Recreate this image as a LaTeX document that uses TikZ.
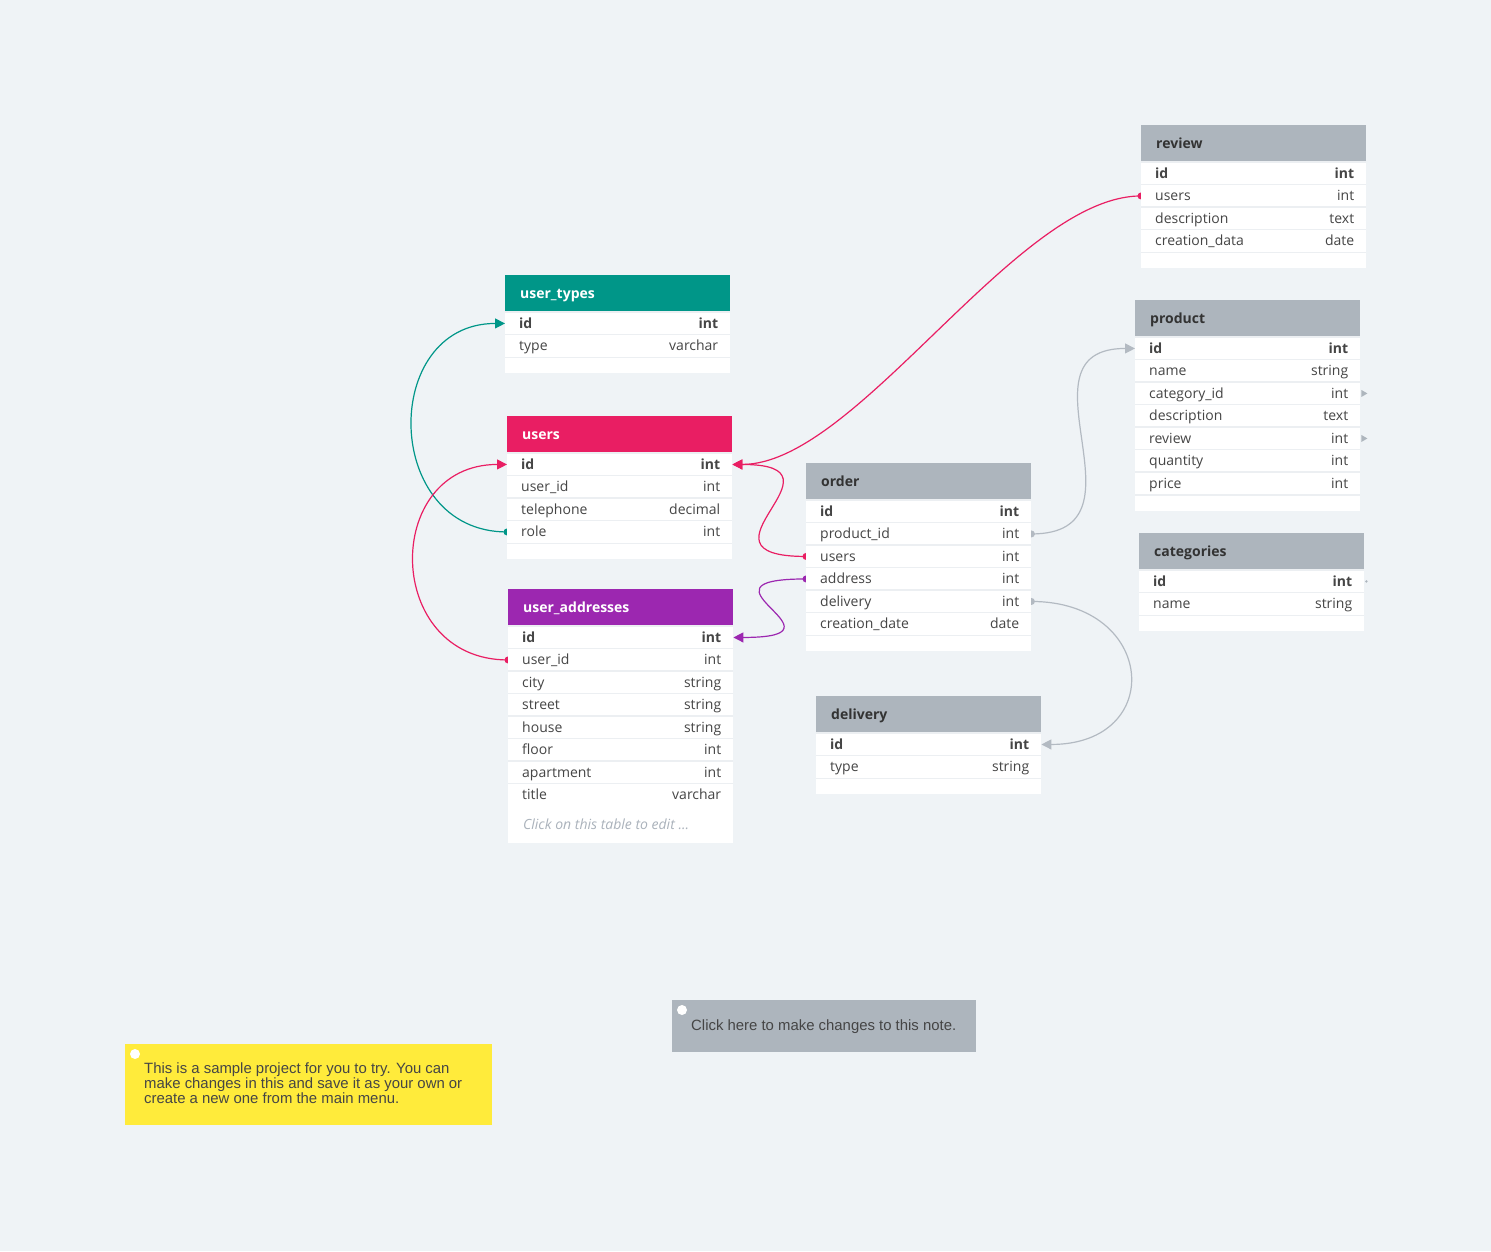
\documentclass[tikz,border=0pt]{standalone}
\usepackage{fontspec}
\setmainfont{Open Sans}
\newfontfamily\notefont{Liberation Sans}
\usetikzlibrary{arrows.meta}

\definecolor{canvasbg}{HTML}{EFF3F6}
\definecolor{tealhd}{HTML}{009688}
\definecolor{pinkhd}{HTML}{E91E63}
\definecolor{purplehd}{HTML}{9C27B0}
\definecolor{grayhd}{HTML}{ADB5BD}
\definecolor{linkgray}{HTML}{B3BAC2}
\definecolor{rowline}{HTML}{ECEFF2}
\definecolor{txtdark}{HTML}{333333}
\definecolor{txtmid}{HTML}{454545}
\definecolor{noteyellow}{HTML}{FFEB3B}
\definecolor{hinttxt}{HTML}{AAB2BB}

\pgfdeclarelayer{canvas}
\pgfdeclarelayer{links}
\pgfsetlayers{canvas,links,main}

\tikzset{
  tblhead/.style={anchor=north west, minimum width=225pt, minimum height=37pt,
    inner xsep=15pt, inner ysep=0pt, text width=195pt, align=left,
    text height=11pt, text depth=1.5pt,
    font=\fontsize{14}{16}\selectfont\bfseries},
  tblrow/.style={anchor=north west, fill=white, minimum width=225pt,
    minimum height=22.5pt, inner sep=0pt},
  fldname/.style={anchor=west, xshift=14pt, inner sep=0pt, text=txtmid,
    text height=11pt, text depth=1pt, font=\fontsize{14}{16}\selectfont},
  fldtype/.style={anchor=east, xshift=-12pt, inner sep=0pt, text=txtmid,
    text height=11pt, text depth=1pt, font=\fontsize{14}{16}\selectfont},
  hint/.style={anchor=west, inner sep=0pt, text=hinttxt,
    text height=11pt, text depth=1pt, font=\fontsize{14}{16}\selectfont\itshape},
  link/.style={line width=1.2pt, -{Triangle[length=10pt,width=10pt]}},
  note/.style={anchor=north west, inner sep=0pt},
  notetext/.style={inner sep=0pt, text=txtmid, font=\notefont\fontsize{14.9}{15}\selectfont},
}

% table: name, x, y, header colour, header text colour, title, rows
\newcommand{\erdtable}[7]{%
  \node[tblhead, fill=#4, text=#5] (#1) at (#2,#3) {#6};
  \foreach \fld/\typ [count=\i] in {#7} {
    \pgfmathsetmacro{\rowy}{#3+37+(\i-1)*22.5}
    \fill[white] (#2,\rowy) rectangle ++(225,38.5);
    \node[tblrow] (#1-\fld) at (#2,\rowy) {};
    \draw[rowline, line width=1.5pt] (#1-\fld.north west) -- (#1-\fld.north east);
    \draw[rowline, line width=1.5pt] (#1-\fld.south west) -- (#1-\fld.south east);
    \node[fldname] at (#1-\fld.west) {\ifnum\i=1 \bfseries\fi\fld};
    \node[fldtype] at (#1-\fld.east) {\ifnum\i=1 \bfseries\fi\typ};
  }
}

\begin{document}
\catcode`\_=12
\begin{tikzpicture}[x=1pt,y=-1pt]
  \begin{pgfonlayer}{canvas}
    \fill[canvasbg] (0,0) rectangle (1491,1251);
  \end{pgfonlayer}

  % tables
  \erdtable{user_types}{505}{275}{tealhd}{white}{user_types}{id/int, type/varchar}
  \erdtable{users}{507}{416}{pinkhd}{white}{users}{id/int, user_id/int, telephone/decimal, role/int}
  \erdtable{user_addresses}{508}{589}{purplehd}{white}{user_addresses}{id/int, user_id/int, city/string, street/string, house/string, floor/int, apartment/int, title/varchar}
  \fill[white] (508,806) rectangle (733,843);
  \node[hint] (edithint) at (523,824) {Click on this table to edit ...};
  \erdtable{order}{806}{463}{grayhd}{txtdark}{order}{id/int, product_id/int, users/int, address/int, delivery/int, creation_date/date}
  \erdtable{review}{1141}{125}{grayhd}{txtdark}{review}{id/int, users/int, description/text, creation_data/date}
  \erdtable{product}{1135}{300}{grayhd}{txtdark}{product}{id/int, name/string, category_id/int, description/text, review/int, quantity/int, price/int}
  \erdtable{categories}{1139}{533}{grayhd}{txtdark}{categories}{id/int, name/string}
  \erdtable{delivery}{816}{696}{grayhd}{txtdark}{delivery}{id/int, type/string}

  % loose ends on the right
  \fill[grayhd] ([xshift=1pt,yshift=3.5pt]product-category_id.east) -- ++(6,3.5) -- ++(-6,3.5) -- cycle;
  \fill[grayhd] ([xshift=1pt,yshift=3.5pt]product-review.east) -- ++(6,3.5) -- ++(-6,3.5) -- cycle;
  \fill[grayhd] ([xshift=2pt]categories-id.east) circle (1.3pt);

  % relations
  \begin{pgfonlayer}{links}
    \draw[link, tealhd] (users-role.west) .. controls +(-125,0) and +(-125,0) .. (user_types-id.west);
    \fill[tealhd] (users-role.west) circle (3.5pt);
    \draw[link, pinkhd] (user_addresses-user_id.west) .. controls +(-125,0) and +(-125,0) .. (users-id.west);
    \fill[pinkhd] (user_addresses-user_id.west) circle (3.5pt);
    \draw[link, pinkhd] (review-users.west) .. controls +(-125,0) and +(125,0) .. (users-id.east);
    \fill[pinkhd] (review-users.west) circle (3.5pt);
    \draw[link, pinkhd] (order-users.west) .. controls +(-125,0) and +(125,0) .. (users-id.east);
    \fill[pinkhd] (order-users.west) circle (3.5pt);
    \draw[link, purplehd] (order-address.west) .. controls +(-125,0) and +(125,0) .. (user_addresses-id.east);
    \fill[purplehd] (order-address.west) circle (3.5pt);
    \draw[link, linkgray] (order-product_id.east) .. controls +(125,0) and +(-125,0) .. (product-id.west);
    \fill[linkgray] (order-product_id.east) circle (3.5pt);
    \draw[link, linkgray] (order-delivery.east) .. controls +(125,0) and +(125,0) .. (delivery-id.east);
    \fill[linkgray] (order-delivery.east) circle (3.5pt);
  \end{pgfonlayer}

  % notes
  \node[note, fill=noteyellow, minimum width=367pt, minimum height=81pt] (samplenote) at (125,1044) {};
  \fill[white] (135,1054) circle (5pt);
  \node[notetext, anchor=north west, align=left] (sampletext) at (144,1062.5) {This is a sample project for you to try. You can\\make changes in this and save it as your own or\\create a new one from the main menu.};
  \node[note, fill=grayhd, minimum width=304pt, minimum height=52pt] (clicknote) at (672,1000) {};
  \fill[white] (682,1010) circle (5pt);
  \node[notetext, anchor=base west] (clicktext) at (691,1030) {Click here to make changes to this note.};
\end{tikzpicture}
\end{document}
